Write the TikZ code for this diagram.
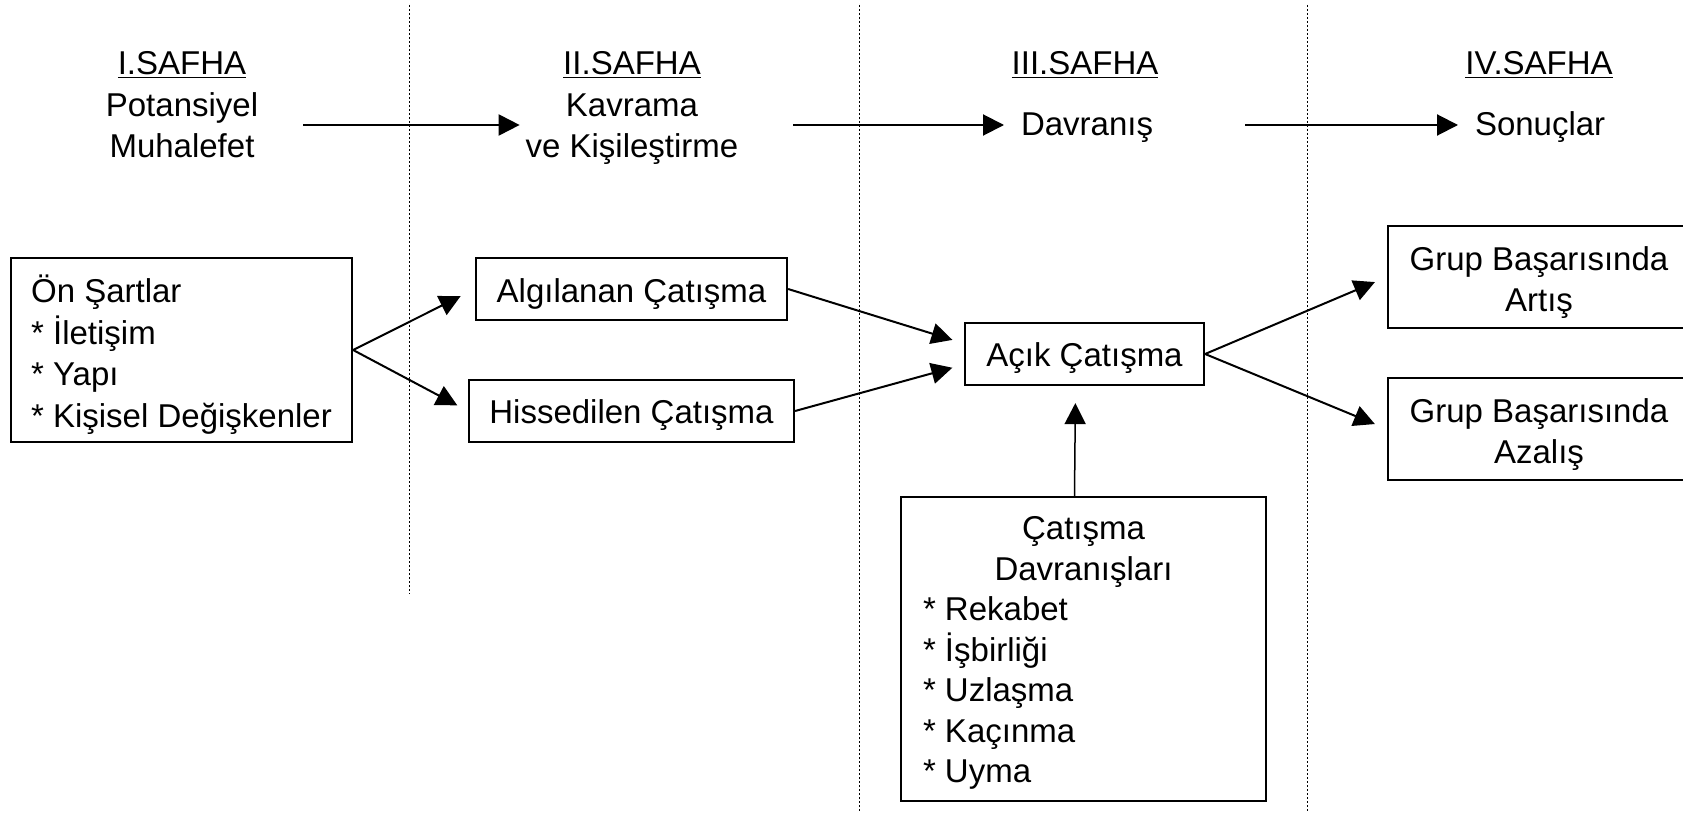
\documentclass[tikz,border=0pt]{standalone}
\usepackage{fontspec}
\setmainfont{Liberation Sans}
\usetikzlibrary{arrows.meta}

\begin{document}
\begin{tikzpicture}[x=1pt, y=-1pt, line width=2pt, >={Triangle[length=21pt,width=21pt]},
    every node/.style={font=\fontsize{33}{40.5}\selectfont, inner sep=5pt},
    bnode/.style={draw, line width=2.2pt, inner sep=0pt, align=center},
    tnode/.style={anchor=base}]
    \useasboundingbox (0,0) rectangle (1683,813);
    \clip (0,0) rectangle (1683,813);

   \begin{scope}[line width=1pt, dash pattern=on 2pt off 2pt]
    \draw (409,5) -- (409,594);
    \draw (859,5) -- (859,813);
    \draw (1307,5) -- (1307,813);
   \end{scope}

    \node[tnode] (t1) at (182,75) {\underline{I.SAFHA}};
    \node[tnode] (t2) at (632,75) {\underline{II.SAFHA}};
    \node[tnode] (t3) at (1085,75) {\underline{III.SAFHA}};
    \node[tnode] (t4) at (1539,75) {\underline{IV.SAFHA}};

    \node[align=center] (p1) at (182,125) {Potansiyel\\Muhalefet};
    \node[align=center] (p2) at (632,125) {\rule{0pt}{30.5pt}Kavrama\\ve Kişileştirme};
    \node[anchor=west] (p3) at (1015,125) {\rule{0pt}{28pt}Davranış};
    \node[anchor=west] (p4) at (1469,125) {\rule{0pt}{28pt}Sonuçlar};

    \node[bnode, minimum width=341pt, minimum height=184pt, align=left] (pre) at (181.5,350) {\rule{0pt}{36.5pt}Ön Şartlar\\[1pt]{*} İletişim\\[1pt]{*} Yapı\\[1pt]{*} Kişisel Değişkenler};
    \node[bnode, minimum width=311pt, minimum height=62pt] (alg) at (631.5,289) {\rule{0pt}{34pt}Algılanan Çatışma};
    \node[bnode, minimum width=325pt, minimum height=62pt] (his) at (631.5,411) {\rule{0pt}{32pt}Hissedilen Çatışma};
    \node[bnode, minimum width=239pt, minimum height=62pt] (acik) at (1084.5,354) {\rule{0pt}{32pt}Açık Çatışma};
    \node[bnode, minimum width=302pt, minimum height=102pt] (art) at (1539,277) {\rule{0pt}{34.5pt}Grup Başarısında\\Artış};
    \node[bnode, minimum width=302pt, minimum height=102pt] (aza) at (1539,429) {\rule{0pt}{34.5pt}Grup Başarısında\\Azalış};
    \node[bnode, minimum width=365pt, minimum height=304pt, align=left] (beh) at (1083.5,649) {\rule{0pt}{31pt}\makebox[321pt]{Çatışma}\\\makebox[321pt]{Davranışları}\\{*} Rekabet\\{*} İşbirliği\\{*} Uzlaşma\\{*} Kaçınma\\{*} Uyma};

    \draw[->, shorten <=39pt] (p1.east) -- (p2.west);
    \draw[->, shorten <=49pt, shorten >=11pt] (p2.east) -- (p3.west);
    \draw[->, shorten <=86pt, shorten >=11pt] (p3.east) -- (p4.west);

    \draw[->, shorten >=16pt] (pre.east) -- (alg.west);
    \draw[->, shorten >=12pt] (pre.east) -- (his.west);
    \draw[->, shorten >=12pt] (alg.east) -- (acik.175);
    \draw[->, shorten >=12pt] (his.east) -- (acik.185);
    \draw[->, shorten >=13pt] (acik.east) -- (art.west);
    \draw[->, shorten >=13pt] (acik.east) -- (aza.west);
    \draw[->, line width=1.5pt, shorten >=17pt] ([xshift=-9pt]beh.north) -- ([xshift=-9pt]acik.south);
\end{tikzpicture}
\end{document}
